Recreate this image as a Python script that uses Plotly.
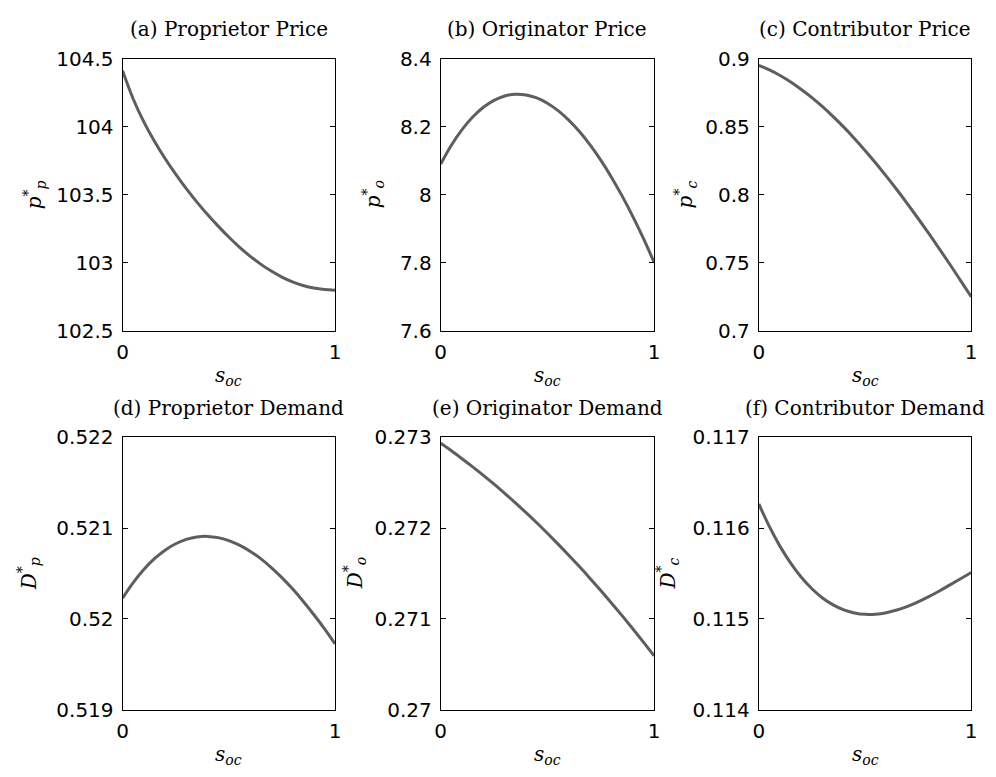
import plotly.graph_objects as go

s_oc = [0.0, 0.05, 0.1, 0.15, 0.2, 0.25, 0.3, 0.35, 0.4, 0.45, 0.5,
        0.55, 0.6, 0.65, 0.7, 0.75, 0.8, 0.85, 0.9, 0.95, 1.0]

proprietor_price = [104.410, 104.203, 104.035, 103.893, 103.766, 103.651, 103.544,
                    103.445, 103.354, 103.269, 103.189, 103.115, 103.049, 102.990,
                    102.939, 102.895, 102.860, 102.833, 102.814, 102.803, 102.799]
originator_price = [8.0900, 8.1452, 8.1911, 8.2281, 8.2567, 8.2772, 8.2899, 8.2951,
                    8.2930, 8.2842, 8.2687, 8.2470, 8.2191, 8.1854, 8.1461, 8.1013,
                    8.0515, 7.9965, 7.9365, 7.8713, 7.8012]
contributor_price = [0.8950, 0.8916, 0.8875, 0.8828, 0.8773, 0.8713, 0.8646, 0.8573,
                     0.8496, 0.8413, 0.8325, 0.8233, 0.8136, 0.8036, 0.7932, 0.7825,
                     0.7715, 0.7602, 0.7487, 0.7369, 0.7250]
proprietor_demand = [0.520230, 0.520401, 0.520545, 0.520664, 0.520758, 0.520829,
                     0.520877, 0.520904, 0.520910, 0.520896, 0.520864, 0.520814,
                     0.520747, 0.520665, 0.520567, 0.520456, 0.520332, 0.520196,
                     0.520049, 0.519893, 0.519727]
originator_demand = [0.272936, 0.272853, 0.272766, 0.272676, 0.272582, 0.272485,
                     0.272384, 0.272279, 0.272171, 0.272060, 0.271944, 0.271825,
                     0.271703, 0.271577, 0.271447, 0.271314, 0.271177, 0.271037,
                     0.270893, 0.270745, 0.270594]
contributor_demand = [0.116267, 0.116017, 0.115800, 0.115615, 0.115460, 0.115333,
                      0.115232, 0.115155, 0.115100, 0.115067, 0.115051, 0.115053,
                      0.115069, 0.115099, 0.115139, 0.115189, 0.115246, 0.115309,
                      0.115376, 0.115444, 0.115512]

titles = ["(a) Proprietor Price", "(b) Originator Price", "(c) Contributor Price",
          "(d) Proprietor Demand", "(e) Originator Demand", "(f) Contributor Demand"]
ylabels = ["<i>p</i><sup>*</sup><sub><i>p</i></sub>",
           "<i>p</i><sup>*</sup><sub><i>o</i></sub>",
           "<i>p</i><sup>*</sup><sub><i>c</i></sub>",
           "<i>D</i><sup>*</sup><sub><i>p</i></sub>",
           "<i>D</i><sup>*</sup><sub><i>o</i></sub>",
           "<i>D</i><sup>*</sup><sub><i>c</i></sub>"]
xlabel = "<i>s</i><sub><i>oc</i></sub>"

ytickvals = [
    [102.5, 103.0, 103.5, 104.0, 104.5],
    [7.6, 7.8, 8.0, 8.2, 8.4],
    [0.7, 0.75, 0.8, 0.85, 0.9],
    [0.519, 0.520, 0.521, 0.522],
    [0.270, 0.271, 0.272, 0.273],
    [0.114, 0.115, 0.116, 0.117],
]
yticktext = [
    ["102.5", "103", "103.5", "104", "104.5"],
    ["7.6", "7.8", "8", "8.2", "8.4"],
    ["0.7", "0.75", "0.8", "0.85", "0.9"],
    ["0.519", "0.52", "0.521", "0.522"],
    ["0.27", "0.271", "0.272", "0.273"],
    ["0.114", "0.115", "0.116", "0.117"],
]
xtickvals = [0, 1]
xticktext = ["0", "1"]

series = [proprietor_price, originator_price, contributor_price,
          proprietor_demand, originator_demand, contributor_demand]

W, H = 996, 777
col_px = [(118, 333), (440, 656), (762, 977)]
row_px = [(48, 329), (439, 720)]
ylabel_x_px = [29, 372, 688, 23, 353, 670]

fig = go.Figure()
layout = dict(
    width=W, height=H,
    margin=dict(l=0, r=0, t=0, b=0),
    paper_bgcolor="white", plot_bgcolor="white",
    showlegend=False,
)
annotations = []
tick_font = dict(family="DejaVu Sans, Arial, sans-serif", size=20, color="black")
serif = "DejaVu Serif, Liberation Serif, serif"

for i in range(6):
    r, c = divmod(i, 3)
    x0, x1 = col_px[c]
    y0, y1 = row_px[r]
    xd = [x0 / W, x1 / W]
    yd = [1 - y1 / H, 1 - y0 / H]
    suffix = "" if i == 0 else str(i + 1)
    fig.add_trace(go.Scatter(
        x=s_oc, y=series[i], mode="lines",
        line=dict(color="#5e5e5e", width=3, shape="spline", smoothing=1.0),
        xaxis="x" + suffix, yaxis="y" + suffix, hoverinfo="skip",
    ))
    layout["xaxis" + suffix] = dict(
        domain=xd, range=[0, 1], anchor="y" + suffix,
        tickvals=xtickvals, ticktext=xticktext,
        showline=True, linecolor="black", linewidth=1, mirror=True,
        ticks="", showgrid=False, zeroline=False, tickfont=tick_font,
        ticklabelstandoff=3,
    )
    layout["yaxis" + suffix] = dict(
        domain=yd, range=[ytickvals[i][0], ytickvals[i][-1]], anchor="x" + suffix,
        tickvals=ytickvals[i], ticktext=yticktext[i],
        showline=True, linecolor="black", linewidth=1, mirror="ticks",
        ticks="inside", ticklen=5, tickcolor="black", tickwidth=1,
        showgrid=False, zeroline=False, tickfont=tick_font,
        ticklabelstandoff=4,
    )
    cx = (x0 + x1) / 2 / W
    # subplot title
    annotations.append(dict(
        text=titles[i], x=cx, y=1 - (y0 - 30) / H, xref="paper", yref="paper",
        xanchor="center", yanchor="middle", showarrow=False,
        font=dict(family=serif, size=20, color="black"),
    ))
    # x-axis label
    annotations.append(dict(
        text=xlabel, x=cx, y=1 - (y1 + 47) / H, xref="paper", yref="paper",
        xanchor="center", yanchor="middle", showarrow=False,
        font=dict(family=serif, size=20, color="black"),
    ))
    # y-axis label
    annotations.append(dict(
        text=ylabels[i], x=ylabel_x_px[i] / W, y=1 - (y0 + y1) / 2 / H,
        xref="paper", yref="paper", xanchor="center", yanchor="middle",
        textangle=-90, showarrow=False,
        font=dict(family=serif, size=20, color="black"),
    ))

layout["annotations"] = annotations
fig.update_layout(**layout)
fig.write_html("out.html")
